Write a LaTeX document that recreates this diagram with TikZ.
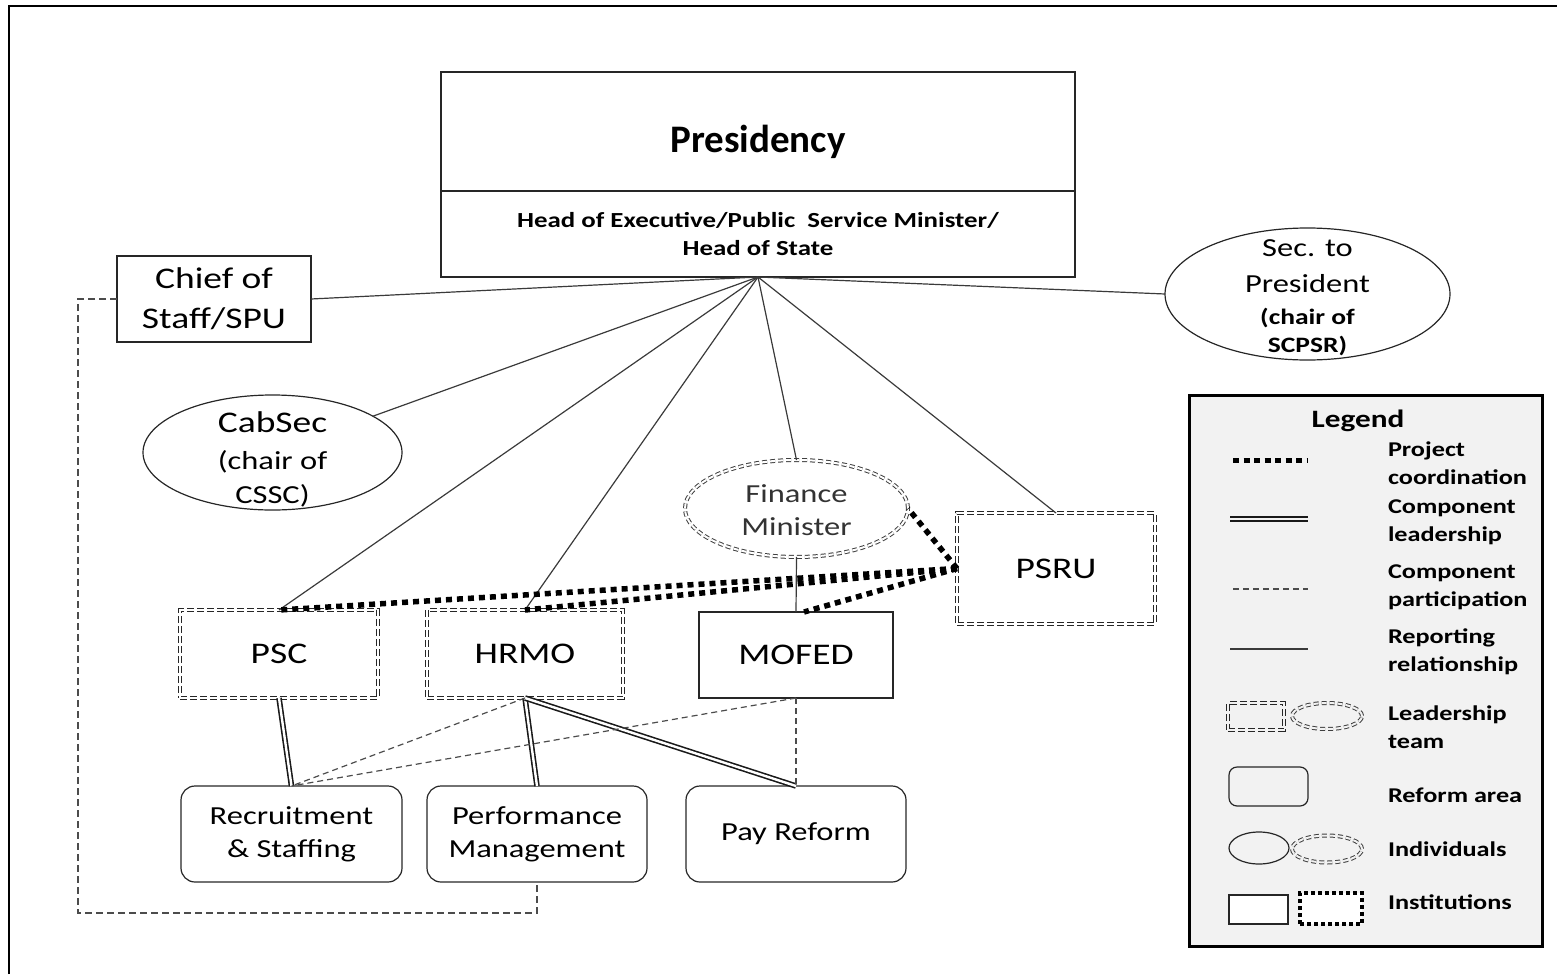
\documentclass[tikz,border=0pt]{standalone}
\usepackage{fontspec}
\setmainfont{Carlito}
\newfontfamily\widefont{Carlito}[FakeStretch=1.25]
\usetikzlibrary{positioning,shapes.geometric}
\definecolor{linegray}{HTML}{3A3A3A}
\definecolor{legendfill}{HTML}{F2F2F2}
\newcommand\chairtxt{\bfseries\fontsize{22}{28}\selectfont}

\begin{document}
\begin{tikzpicture}[x=1pt,y=-1pt,
  every node/.style={inner sep=0pt,outer sep=0pt,align=center},
  bigtxt/.style={font=\widefont\fontsize{30}{40}\selectfont},
  smalltxt/.style={font=\widefont\fontsize{26}{33}\selectfont},
  inst/.style={rectangle,draw=black!85,line width=1.2pt},
  leadbox/.style={rectangle,draw=black!85,line width=1pt,double=white,double distance=2pt,dash pattern=on 7pt off 3pt},
  leadind/.style={ellipse,draw=black!75,line width=1pt,double=white,double distance=2pt,dash pattern=on 5pt off 3pt},
  indiv/.style={ellipse,draw=black!85,line width=1.2pt},
  reform/.style={rectangle,rounded corners=14pt,draw=black!85,line width=1.2pt},
  report/.style={draw=linegray,line width=1.2pt},
  coord/.style={draw=black,line width=5.5pt,dash pattern=on 6pt off 5pt},
  leadline/.style={draw=black!90,line width=1.6pt,double=white,double distance=2.4pt},
  partic/.style={draw=black!70,line width=1.2pt,dash pattern=on 6pt off 4pt},
  legtext/.style={anchor=west,align=left,font=\widefont\bfseries\fontsize{21}{28}\selectfont},
  ]
  \useasboundingbox (0,0) rectangle (1557,974);
  \draw[line width=2.5pt] (9,974) -- (9,6) -- (1557,6);

  % create the nodes
  \node[inst,minimum width=634pt,minimum height=119pt,label={[font=\bfseries\fontsize{39}{44}\selectfont,yshift=-10pt]center:Presidency}] (pres) at (758,131.5) {};
  \node[inst,minimum width=634pt,minimum height=86pt,below=0pt of pres,font=\widefont\bfseries\fontsize{21.5}{28}\selectfont] (presSub) {Head of Executive/Public\ \ Service Minister/\\Head of State};
  \node[inst,bigtxt,minimum width=194pt,minimum height=86pt] (chief) at (214,299) {Chief of\\Staff/SPU};
  \node[indiv,minimum width=285pt,minimum height=132pt,label={[font=\widefont\fontsize{26}{36}\selectfont,yshift=-4pt]center:{Sec. to\\President\\[-4pt]{\chairtxt (chair of}\\[-8pt]{\chairtxt SCPSR)}}}] (sec) at (1307.5,294) {};
  \node[indiv,minimum width=259pt,minimum height=115pt,label={[font=\widefont\fontsize{30}{34}\selectfont,yshift=-7pt]center:{CabSec\\[3pt]{\fontsize{26}{32}\selectfont (chair of}\\{\fontsize{26}{32}\selectfont CSSC)}}}] (cab) at (272.5,452.5) {};
  \node[leadind,minimum width=223pt,minimum height=97pt,label={[smalltxt,text=black!80,yshift=-2pt]center:{Finance\\Minister}}] (fin) at (796.5,508.5) {};
  \node[leadbox,bigtxt,minimum width=198pt,minimum height=111pt] (psru) at (1056,568.5) {PSRU};
  \node[leadbox,bigtxt,minimum width=198pt,minimum height=88pt] (psc) at (279,654) {PSC};
  \node[leadbox,bigtxt,minimum width=196pt,minimum height=88pt] (hrmo) at (525,654) {HRMO};
  \node[inst,bigtxt,minimum width=194pt,minimum height=86pt] (mofed) at (796,655) {MOFED};
  \node[reform,smalltxt,minimum width=221pt,minimum height=96pt] (rec) at (291.5,834) {Recruitment\\\&~Staffing};
  \node[reform,smalltxt,minimum width=220pt,minimum height=96pt] (perf) at (537,834) {Performance\\Management};
  \node[reform,smalltxt,minimum width=220pt,minimum height=96pt] (pay) at (796,834) {Pay Reform};

  % connect the nodes
  \coordinate (hub) at (presSub.south);
  \foreach \n in {chief.east,sec.west,cab,psc.north,hrmo.north,fin.north,psru.north}
    \draw[report] (hub) -- (\n);
  \draw[report] (fin.south) -- (mofed.north);
  \foreach \n in {psc.north,hrmo.north,fin.east}
    \draw[coord] (psru.west) -- (\n);
  \draw[coord] (psru.west) -- ([xshift=8pt]mofed.north);
  \draw[leadline] (psc.south) -- (rec.north);
  \draw[leadline] (hrmo.south) -- (perf.north);
  \draw[leadline] (hrmo.south) -- (pay.north);
  \draw[partic] (hrmo.south) -- (rec.north);
  \draw[partic] (mofed.south) -- (rec.north);
  \draw[partic] (mofed.south) -- (pay.north);
  \coordinate (loop) at (78,913);
  \draw[partic,dash pattern=on 7pt off 4pt] (chief.west) -| (loop) -| (perf.south);

  % legend
  \node[draw=black,line width=3pt,fill=legendfill,minimum width=353pt,minimum height=551pt] (legend) at (1365.5,670.5) {};
  \node[font=\widefont\bfseries\fontsize{25}{30}\selectfont] (legtitle) at (1358,421) {Legend};
  \node[legtext] (lgcoord) at (1388,463) {Project\\coordination};
  \node[legtext] (lglead) at (1388,522) {Component\\leadership};
  \node[legtext] (lgpart) at (1388,587) {Component\\participation};
  \node[legtext] (lgrep) at (1388,652) {Reporting\\relationship};
  \node[legtext] (lgteam) at (1388,727) {Leadership\\team};
  \node[legtext] (lgarea) at (1388,795) {Reform area};
  \node[legtext] (lgind) at (1388,849) {Individuals};
  \node[legtext] (lginst) at (1388,902) {Institutions};
  \draw[coord,line width=5pt,dash pattern=on 6pt off 4.5pt] (1233,460) -- (1307,460);
  \draw[leadline,double=legendfill] (1230,519) -- (1308,519);
  \draw[partic] (1233,589) -- (1308,589);
  \draw[report] (1230,649) -- (1308,649);
  \node[leadbox,double=legendfill,minimum width=56pt,minimum height=27pt] (keyteam) at (1256,716) {};
  \node[leadind,double=legendfill,minimum width=70pt,minimum height=26pt] (keyteam2) at (1327,716) {};
  \node[reform,rounded corners=8pt,minimum width=79pt,minimum height=39pt] (keyarea) at (1268.5,786.5) {};
  \node[indiv,minimum width=60pt,minimum height=32pt] (keyind) at (1259,848) {};
  \node[leadind,double=legendfill,minimum width=70pt,minimum height=27pt] (keyind2) at (1327,849) {};
  \node[inst,fill=white,minimum width=59pt,minimum height=29pt] (keyinst) at (1258.5,909.5) {};
  \node[rectangle,draw=black,fill=white,line width=3.5pt,dash pattern=on 4pt off 3pt,minimum width=62pt,minimum height=31pt] (keyinst2) at (1331,908.5) {};
\end{tikzpicture}
\end{document}
